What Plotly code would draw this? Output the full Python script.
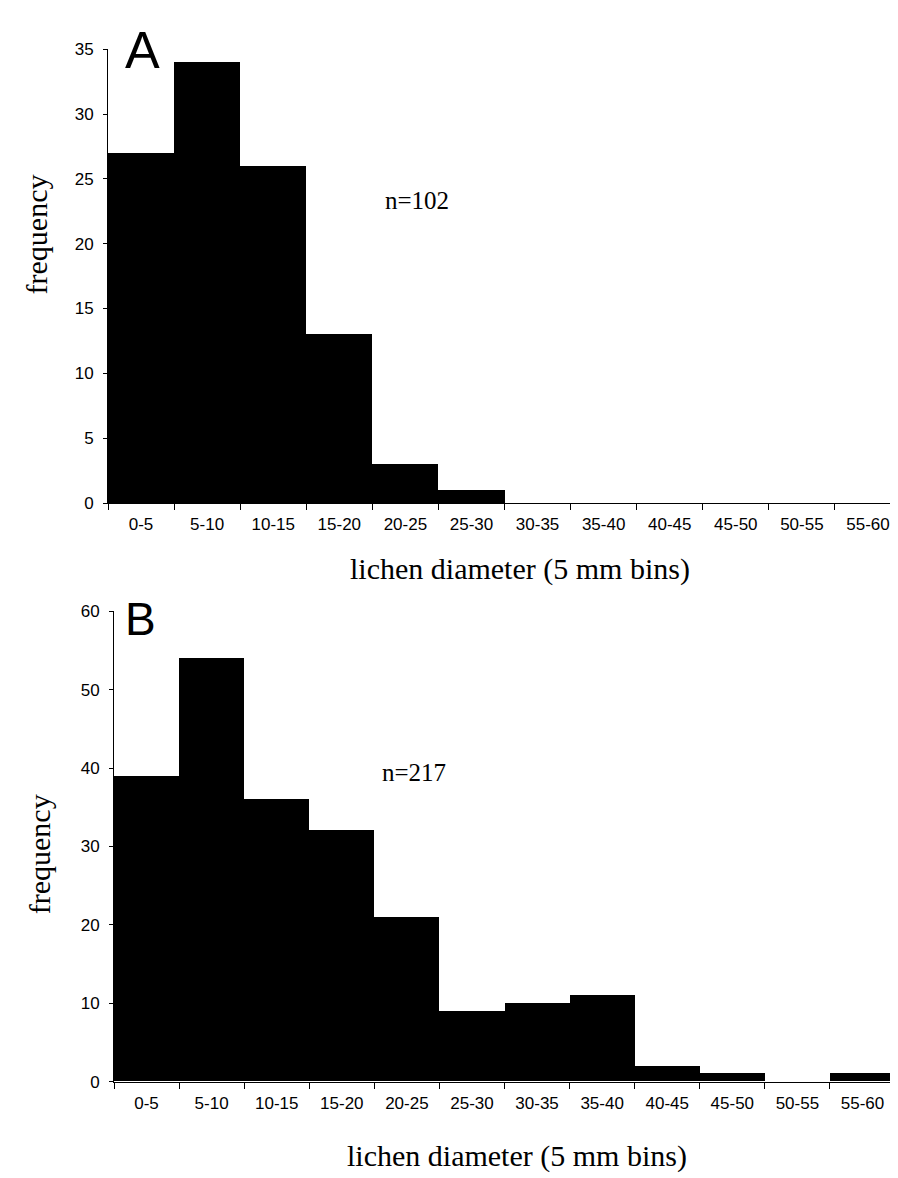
import plotly.graph_objects as go

# ---- data ----
bins = ["0-5", "5-10", "10-15", "15-20", "20-25", "25-30",
        "30-35", "35-40", "40-45", "45-50", "50-55", "55-60"]
freq_a = [27, 34, 26, 13, 3, 1, 0, 0, 0, 0, 0, 0]
freq_b = [39, 54, 36, 32, 21, 9, 10, 11, 2, 1, 0, 1]
yticks_a = [0, 5, 10, 15, 20, 25, 30, 35]
yticks_b = [0, 10, 20, 30, 40, 50, 60]
x_title = "lichen diameter (5 mm bins)"
y_title = "frequency"
n_a = "n=102"
n_b = "n=217"

W, H = 898, 1178


def px(x):
    return x / W


def py(y):
    return 1 - y / H


SANS = "Arial, 'Liberation Sans', sans-serif"
SERIF = "'Times New Roman', 'Liberation Serif', serif"

fig = go.Figure()
fig.add_trace(go.Bar(x=bins, y=freq_a, marker=dict(color="black", line=dict(width=0)),
                     xaxis="x", yaxis="y", showlegend=False))
fig.add_trace(go.Bar(x=bins, y=freq_b, marker=dict(color="black", line=dict(width=0)),
                     xaxis="x2", yaxis="y2", showlegend=False))

common_x = dict(type="category", tickson="boundaries", ticks="outside", ticklen=6,
                tickcolor="black", tickwidth=1, showline=True, linecolor="black",
                linewidth=1, showgrid=False, zeroline=False,
                tickfont=dict(family=SANS, size=17, color="black"),
                ticklabelstandoff=6)
common_y = dict(ticks="outside", ticklen=4, tickcolor="black", tickwidth=1,
                showline=True, linecolor="black", linewidth=1, showgrid=False,
                zeroline=False, tickfont=dict(family=SANS, size=17, color="black"),
                ticklabelstandoff=6)

fig.update_layout(
    width=W, height=H, margin=dict(l=0, r=0, t=0, b=0),
    paper_bgcolor="white", plot_bgcolor="white", bargap=0, showlegend=False,
    xaxis=dict(domain=[px(100), px(893)], anchor="y", **common_x),
    yaxis=dict(domain=[py(494), py(32.7)], anchor="x", range=[0, 35],
               tickvals=yticks_a, **common_y),
    xaxis2=dict(domain=[px(106), px(887)], anchor="y2", **common_x),
    yaxis2=dict(domain=[py(1082), py(604)], anchor="x2", range=[0, 60],
                tickvals=yticks_b, **common_y),
)

ann = [
    dict(text="A", x=px(134.5), y=py(34), font=dict(family=SANS, size=52, color="black")),
    dict(text="B", x=px(132), y=py(611.5), font=dict(family=SANS, size=46, color="black")),
    dict(text=n_a, x=px(409), y=py(187), font=dict(family=SERIF, size=25, color="black")),
    dict(text=n_b, x=px(406), y=py(768), font=dict(family=SERIF, size=25, color="black")),
    dict(text=x_title, x=px(512), y=py(561), font=dict(family=SERIF, size=30, color="black")),
    dict(text=x_title, x=px(509), y=py(1158), font=dict(family=SERIF, size=30, color="black")),
    dict(text=y_title, x=px(28), y=py(221), textangle=-90,
         font=dict(family=SERIF, size=30, color="black")),
    dict(text=y_title, x=px(31), y=py(851), textangle=-90,
         font=dict(family=SERIF, size=30, color="black")),
]
for a in ann:
    a.update(xref="paper", yref="paper", xanchor="center", yanchor="middle",
             showarrow=False)
fig.update_layout(annotations=ann)

fig.write_html("out.html")
